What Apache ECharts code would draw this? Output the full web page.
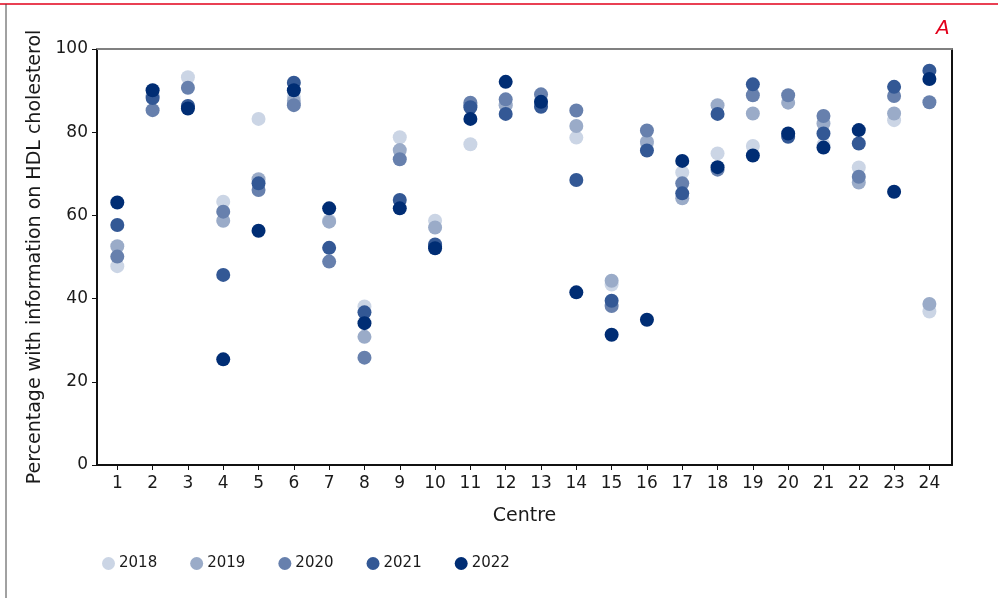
<!DOCTYPE html>
<html>
<head>
<meta charset="utf-8">
<script src="https://cdn.jsdelivr.net/npm/echarts@6/dist/echarts.min.js"></script>
<style>
  html, body { margin: 0; padding: 0; background: #fff; }
  #chart { width: 998px; height: 598px; }
</style>
</head>
<body>
<div id="chart"></div>
<script>
// Centres on the x axis
const centres = [1, 2, 3, 4, 5, 6, 7, 8, 9, 10, 11, 12, 13, 14, 15, 16, 17, 18, 19, 20, 21, 22, 23, 24];
const yTicks = [0, 20, 40, 60, 80, 100];

// Percentage with information on HDL cholesterol, per centre and year
const v2018 = [47.8, 90.0, 93.2, 63.3, 83.2, 88.5, 58.8, 38.1, 78.8, 58.7, 77.1, 86.5, 86.5, 78.7, 43.4, 77.2, 70.3, 74.9, 76.7, 79.5, 77.0, 71.5, 82.9, 36.9];
const v2019 = [52.6, 88.8, 86.2, 58.7, 68.7, 87.5, 58.5, 30.8, 75.7, 57.1, 86.5, 86.5, 87.5, 81.5, 44.3, 77.7, 64.1, 86.5, 84.5, 87.1, 82.1, 67.9, 84.5, 38.7];
const v2020 = [50.1, 85.3, 90.7, 60.9, 66.1, 86.5, 48.9, 25.8, 73.5, 52.6, 87.1, 87.9, 89.1, 85.2, 38.2, 80.4, 67.7, 71.0, 88.9, 88.9, 83.9, 69.3, 88.7, 87.2];
const v2021 = [57.7, 88.2, 86.3, 45.7, 67.7, 91.9, 52.2, 36.7, 63.7, 53.0, 86.0, 84.4, 86.1, 68.5, 39.5, 75.6, 65.3, 84.4, 91.5, 78.9, 79.7, 77.3, 90.9, 94.8];
const v2022 = [63.1, 90.1, 85.7, 25.4, 56.3, 90.1, 61.7, 34.1, 61.7, 52.1, 83.2, 92.1, 87.3, 41.5, 31.3, 34.9, 73.1, 71.6, 74.4, 79.7, 76.3, 80.5, 65.7, 92.8];

const years = ['2018', '2019', '2020', '2021', '2022'];
const values = [v2018, v2019, v2020, v2021, v2022];
const colors = ['#cbd5e5', '#9aabc8', '#6780ad', '#335895', '#002d74'];

const FONT = 'DejaVu Sans';
const TXT = '#1a1a1a';

const series = years.map((y, i) => ({
  name: y,
  type: 'scatter',
  symbol: 'circle',
  symbolSize: 14,
  itemStyle: { color: colors[i], opacity: 1 },
  data: centres.map((c, k) => [c, values[i][k]]),
  z: 2 + i
}));

const chart = echarts.init(document.getElementById('chart'), null, { renderer: 'canvas' });
chart.setOption({
  backgroundColor: '#fff',
  animation: false,
  textStyle: { fontFamily: FONT, color: TXT },
  grid: { left: 97, top: 49, right: 46, bottom: 133, containLabel: false },
  legend: {
    left: 97,
    top: 551,
    icon: 'circle',
    itemWidth: 13,
    itemHeight: 13,
    itemGap: 33,
    textStyle: { fontFamily: FONT, fontSize: 15, color: TXT, padding: [0, 0, 0, -1] },
    data: years
  },
  xAxis: [{
    type: 'value',
    min: 0.425,
    max: 24.64,
    name: 'Centre',
    nameLocation: 'middle',
    nameGap: 42,
    nameTextStyle: { fontFamily: FONT, fontSize: 19, color: TXT },
    axisLine: { show: true, onZero: false, lineStyle: { color: '#111', width: 2 } },
    axisTick: { show: true, length: 5, lineStyle: { color: '#111', width: 1 }, customValues: centres },
    axisLabel: { fontFamily: FONT, fontSize: 17, color: TXT, margin: 10, customValues: centres },
    splitLine: { show: false }
  }, {
    type: 'value',
    position: 'top',
    min: 0.425,
    max: 24.64,
    axisLine: { show: true, onZero: false, lineStyle: { color: '#808080', width: 2 } },
    axisTick: { show: false },
    axisLabel: { show: false },
    splitLine: { show: false }
  }],
  yAxis: [{
    type: 'value',
    min: 0,
    max: 100,
    interval: 20,
    name: 'Percentage with information on HDL cholesterol',
    nameLocation: 'middle',
    nameGap: 48,
    nameTextStyle: { fontFamily: FONT, fontSize: 19, color: TXT },
    axisLine: { show: true, onZero: false, lineStyle: { color: '#111', width: 2 } },
    axisTick: { show: true, length: 5, lineStyle: { color: '#111', width: 1 } },
    axisLabel: { fontFamily: FONT, fontSize: 17, color: TXT, margin: 9, customValues: yTicks },
    splitLine: { show: false }
  }, {
    type: 'value',
    position: 'right',
    min: 0,
    max: 100,
    axisLine: { show: true, onZero: false, lineStyle: { color: '#111', width: 2 } },
    axisTick: { show: false },
    axisLabel: { show: false },
    splitLine: { show: false }
  }],
  graphic: [
    { type: 'line', shape: { x1: 0, y1: 4, x2: 998, y2: 4 }, style: { stroke: '#e2001a', lineWidth: 1.5 }, silent: true },
    { type: 'line', shape: { x1: 6, y1: 4, x2: 6, y2: 598 }, style: { stroke: '#444', lineWidth: 1 }, silent: true },
    { type: 'text', left: 936, top: 19, style: { text: 'A', fill: '#e2001a', font: 'italic 20px "DejaVu Sans"' }, silent: true }
  ],
  series: series
});
</script>
</body>
</html>
